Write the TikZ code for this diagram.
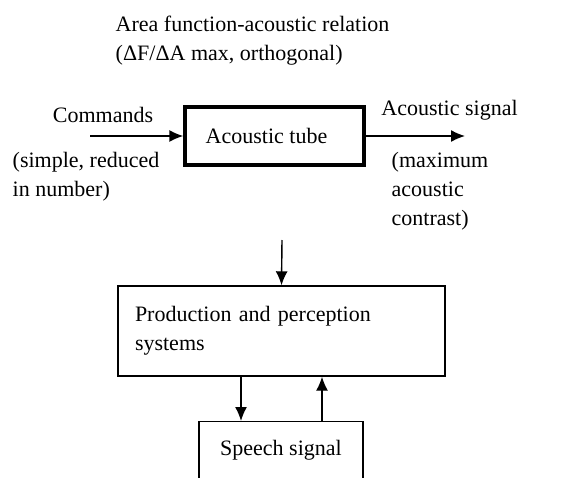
\documentclass[tikz,border=0pt]{standalone}
\usepackage{fontspec}
\setmainfont{Liberation Serif}
\usepackage{tikz}
\usetikzlibrary{calc,shapes,arrows.meta}

\tikzset{
  txt/.style={inner sep=0pt, font=\fontsize{22}{29}\selectfont},
  blk/.style={draw, line width=1.4pt, inner sep=0pt, font=\fontsize{22}{29}\selectfont},
  arr/.style={-{Latex[length=14pt,width=12pt]}}
}

\begin{document}
\begin{tikzpicture}[x=1pt,y=-1pt,line width=1.4pt]
        \useasboundingbox (0,0) rectangle (576,477);
        % boxes
        \node[blk, line width=3.4pt, minimum width=179, minimum height=58] (tube) at (274.5,136) {\hspace*{-16pt}Acoustic tube};
        \node[blk, minimum width=327, minimum height=90, text width=293, align=left] (prod) at (281.5,331)
            {Production and perception\\systems};
        \node[blk, anchor=north, minimum width=164, text height=34, text depth=40] (speech) at (281,421) {Speech signal};
        % labels
        \node[txt, anchor=west, align=left] (title) at (115,41)
            {Area function-acoustic relation\\(ΔF/ΔA max, orthogonal)};
        \node[txt] (cmdtxt) at (103,115) {Commands};
        \node[txt, anchor=west, align=left] (cmdnote) at (12,177) {(simple, reduced\\in number)};
        \node[txt] (outtxt) at (449.5,110) {Acoustic signal};
        \node[txt, anchor=west, align=left] (outnote) at (391,191) {(maximum\\acoustic\\contrast)};
        % arrows
        \coordinate (cmd) at (90,136);
        \coordinate (out) at (465,136);
        \coordinate (top) at (282,240);
        \draw[arr] (cmd) -- (tube.west);
        \draw[arr] (tube.east) -- (out);
        \draw[arr] (top) -- (prod.north);
        \draw[arr] ($(prod.south)+(-40.5,0)$) -- ($(speech.north)+(-40,0)$);
        \draw[arr] ($(speech.north)+(41,0)$) -- ($(prod.south)+(40.5,0)$);
    \end{tikzpicture}
\end{document}
